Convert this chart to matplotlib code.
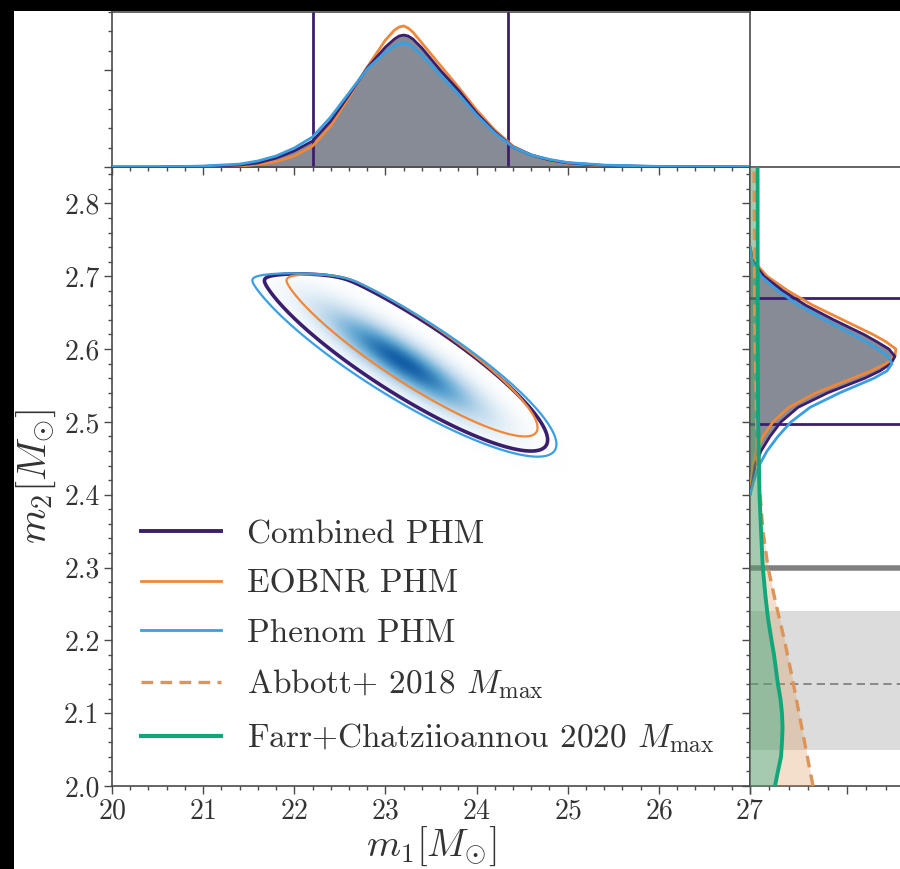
import numpy as np
import matplotlib
matplotlib.use("Agg")
import matplotlib.pyplot as plt
from matplotlib.patches import Rectangle
from matplotlib.lines import Line2D
from matplotlib.ticker import MultipleLocator, NullFormatter, FormatStrFormatter
from matplotlib.colors import LinearSegmentedColormap

plt.rcParams.update({
    "font.family": "serif",
    "font.serif": ["cmr10"],
    "mathtext.fontset": "cm",
    "axes.formatter.use_mathtext": True,
    "axes.unicode_minus": False,
})

# ---- waveform models -------------------------------------------------------
models = ["Combined PHM", "EOBNR PHM", "Phenom PHM"]
model_colors = ["#3b1f6e", "#f0883a", "#3a9fe0"]

# 2D posterior summaries in (m1, m2): centre, spread, correlation
m1_mean = [23.20, 23.27, 23.17]
m2_mean = [2.593, 2.600, 2.593]
m1_sigma = [0.736, 0.652, 0.795]
m2_sigma = [0.0620, 0.0559, 0.0656]
rho = [-0.885, -0.900, -0.879]
m2_upper = 2.703
credible_level = 0.90

# peak of the combined joint density
peak_m1 = 23.19
peak_m2 = 2.582

# marginal posterior of m1
m1_grid = [20.0, 20.5, 21.0, 21.4, 21.6, 21.8, 22.0, 22.2, 22.4, 22.6, 22.8,
           23.0, 23.1, 23.15, 23.2, 23.25, 23.3, 23.4, 23.6, 23.8, 24.0, 24.2,
           24.4, 24.6, 24.8, 25.0, 25.4, 26.0, 27.0]
m1_pdf_combined = [0, 0, .003, .010, .021, .046, .083, .134, .237, .372, .511,
                   .619, .661, .676, .681, .676, .661, .614, .501, .397, .279,
                   .181, .103, .062, .036, .021, .008, .002, 0]
m1_pdf_eobnr = [0, 0, .001, .005, .013, .028, .057, .108, .212, .361, .516,
                .655, .707, .722, .728, .717, .697, .640, .526, .413, .294,
                .191, .108, .062, .034, .018, .006, .001, 0]
m1_pdf_phenom = [0, 0, .005, .015, .031, .057, .098, .155, .258, .382, .506,
                 .593, .624, .635, .640, .635, .619, .578, .475, .377, .268,
                 .175, .103, .062, .039, .023, .010, .003, 0]

# marginal posterior of m2
m2_grid = [2.40, 2.42, 2.44, 2.46, 2.48, 2.50, 2.52, 2.54, 2.56, 2.57, 2.58,
           2.59, 2.60, 2.61, 2.62, 2.64, 2.66, 2.68, 2.70, 2.72, 2.74]
m2_pdf_combined = [0, .015, .026, .057, .103, .160, .248, .402, .593, .671,
                   .728, .748, .717, .655, .588, .433, .289, .170, .072, .015, 0]
m2_pdf_eobnr = [0, .008, .015, .031, .067, .119, .201, .341, .531, .624,
                .702, .748, .753, .702, .635, .480, .325, .196, .088, .021, 0]
m2_pdf_phenom = [0, .021, .046, .088, .144, .212, .310, .464, .640, .707,
                 .733, .712, .660, .599, .531, .387, .253, .144, .057, .010, 0]

# 90% credible intervals of the combined posterior
m1_interval = [22.21, 24.35]
m2_interval = [2.497, 2.670]

# maximum neutron-star mass estimates
mmax_abbott_grid = [2.00, 2.05, 2.10, 2.15, 2.20, 2.25, 2.30, 2.35, 2.40,
                    2.45, 2.50, 2.60, 2.70, 2.85]
mmax_abbott_pdf = [.325, .289, .253, .217, .178, .134, .093, .067, .052,
                   .040, .034, .027, .024, .021]
mmax_farr_grid = [2.00, 2.02, 2.04, 2.06, 2.08, 2.10, 2.12, 2.14, 2.16, 2.18,
                  2.20, 2.23, 2.26, 2.30, 2.35, 2.40, 2.50, 2.60, 2.85]
mmax_farr_pdf = [.129, .144, .160, .165, .168, .165, .157, .144, .134, .124,
                 .111, .093, .080, .066, .057, .049, .042, .040, .039]
mmax_labels = [r"Abbott+ 2018 $M_{\rm max}$",
               r"Farr+Chatziioannou 2020 $M_{\rm max}$"]
abbott_color = "#dc9458"
farr_color = "#12a77a"

# heaviest pulsar mass with its 68% band, and a reference mass limit
pulsar_mass = 2.14
pulsar_band = [2.05, 2.24]
mass_limit = 2.30

# axis ranges
m1_range = [20, 27]
m2_range = [2.0, 2.85]

# ---- figure ----------------------------------------------------------------
W, H = 900, 869
fig = plt.figure(figsize=(W / 100, H / 100), dpi=100, facecolor="black")
fig.add_artist(Rectangle((14 / W, 0), 1, (H - 11) / H, transform=fig.transFigure,
                         facecolor="white", edgecolor="none", zorder=-10))

x0, x1 = 112 / W, 750 / W
y_bot, y_mid, y_top = (H - 786) / H, (H - 167) / H, (H - 12) / H
ax = fig.add_axes([x0, y_bot, x1 - x0, y_mid - y_bot])
ax_top = fig.add_axes([x0, y_mid, x1 - x0, y_top - y_mid])
ax_right = fig.add_axes([x1, y_bot, 155 / W, y_mid - y_bot])

spine_color = "#4a4a4a"
for a in (ax, ax_top, ax_right):
    for s in a.spines.values():
        s.set_color(spine_color)
        s.set_linewidth(1.2)
    a.tick_params(which="both", direction="out", color=spine_color, width=1.0)
    a.tick_params(which="major", length=6)
    a.tick_params(which="minor", length=3)

# ---- joint posterior -------------------------------------------------------
m1_axis = np.linspace(m1_range[0], m1_range[1], 700)
m2_axis = np.linspace(m2_range[0], m2_range[1], 700)
M1, M2 = np.meshgrid(m1_axis, m2_axis)


def joint_density(i, c1=None, c2=None):
    c1 = m1_mean[i] if c1 is None else c1
    c2 = m2_mean[i] if c2 is None else c2
    u = (M1 - c1) / m1_sigma[i]
    v = (M2 - c2) / m2_sigma[i]
    r = rho[i]
    q = (u * u - 2 * r * u * v + v * v) / (1 - r * r)
    taper = 1.0 / (1.0 + np.exp((M2 - m2_upper) / 0.003))
    return np.exp(-0.5 * q) * taper


density = joint_density(0, peak_m1, peak_m2)
blues = LinearSegmentedColormap.from_list(
    "white_blues", ["#ffffff", plt.cm.Blues(0.3), plt.cm.Blues(0.55),
                    plt.cm.Blues(0.82)])
ax.imshow(density ** 1.8, extent=[m1_range[0], m1_range[1], m2_range[0], m2_range[1]],
          origin="lower", aspect="auto", cmap=blues, vmin=0, vmax=1,
          interpolation="bilinear", zorder=1)

level = 1 - credible_level  # density ratio bounding the 90% region
contour_widths = [2.6, 1.6, 1.6]
for i in range(len(models)):
    ax.contour(M1, M2, joint_density(i), levels=[level],
               colors=[model_colors[i]], linewidths=contour_widths[i], zorder=3)

ax.set_xlim(m1_range)
ax.set_ylim(m2_range)
ax.xaxis.set_major_locator(MultipleLocator(1))
ax.xaxis.set_minor_locator(MultipleLocator(0.2))
ax.yaxis.set_major_locator(MultipleLocator(0.1))
ax.yaxis.set_minor_locator(MultipleLocator(0.02))
ax.yaxis.set_major_formatter(FormatStrFormatter("%.1f"))
ax.tick_params(labelsize=20, pad=3)
for lab in ax.get_xticklabels() + ax.get_yticklabels():
    lab.set_color("#333333")
ax.set_xlabel(r"$m_1[M_{\odot}]$", fontsize=28, color="#333333", labelpad=0)
ax.set_ylabel(r"$m_2[M_{\odot}]$", fontsize=29, color="#333333", labelpad=4)

# ---- m1 marginal -----------------------------------------------------------
m1_pdfs = [m1_pdf_combined, m1_pdf_eobnr, m1_pdf_phenom]
fill_gray = "#868b95"
ax_top.fill_between(m1_grid, 0, m1_pdf_combined, color=fill_gray, lw=0, zorder=1)
for pdf, c in zip([m1_pdfs[1], m1_pdfs[0], m1_pdfs[2]],
                  [model_colors[1], model_colors[0], model_colors[2]]):
    ax_top.plot(m1_grid, pdf, color=c, lw=2.0, zorder=3)
for v in m1_interval:
    ax_top.axvline(v, color=model_colors[0], lw=2.0, zorder=2)
ax_top.set_xlim(m1_range)
ax_top.set_ylim(0, 0.8)
ax_top.xaxis.set_major_locator(MultipleLocator(1))
ax_top.xaxis.set_minor_locator(MultipleLocator(0.2))
ax_top.yaxis.set_major_locator(MultipleLocator(0.5))
ax_top.yaxis.set_minor_locator(MultipleLocator(0.1))
ax_top.xaxis.set_major_formatter(NullFormatter())
ax_top.yaxis.set_major_formatter(NullFormatter())

# ---- m2 marginal and maximum-mass estimates --------------------------------
m2_pdfs = [m2_pdf_combined, m2_pdf_eobnr, m2_pdf_phenom]
ax_right.axhspan(pulsar_band[0], pulsar_band[1], color="#d6d6d6", alpha=0.85,
                 lw=0, zorder=0)
ax_right.axhline(pulsar_mass, color="#7a7a7a", lw=1.2, ls=(0, (5, 3)), zorder=1)
ax_right.axhline(mass_limit, color="#808080", lw=4.0, zorder=1)
ax_right.fill_betweenx(m2_grid, 0, m2_pdf_combined, color=fill_gray, lw=0, zorder=2)
for pdf, c in zip([m2_pdfs[1], m2_pdfs[0], m2_pdfs[2]],
                  [model_colors[1], model_colors[0], model_colors[2]]):
    ax_right.plot(pdf, m2_grid, color=c, lw=2.0, zorder=4)
for v in m2_interval:
    ax_right.axhline(v, color=model_colors[0], lw=2.0, zorder=3)

ax_right.fill_betweenx(mmax_abbott_grid, 0, mmax_abbott_pdf, color=abbott_color,
                       alpha=0.3, lw=0, zorder=5)
ax_right.fill_betweenx(mmax_farr_grid, 0, mmax_farr_pdf, color=farr_color,
                       alpha=0.35, lw=0, zorder=5)
ax_right.plot(mmax_abbott_pdf, mmax_abbott_grid, color=abbott_color, lw=2.4,
              ls=(0, (3.5, 2.2)), zorder=6)
ax_right.plot(mmax_farr_pdf, mmax_farr_grid, color=farr_color, lw=2.8, zorder=6)

ax_right.set_ylim(m2_range)
ax_right.set_xlim(0, 0.8)
ax_right.yaxis.set_major_locator(MultipleLocator(0.1))
ax_right.yaxis.set_minor_locator(MultipleLocator(0.02))
ax_right.xaxis.set_major_locator(MultipleLocator(0.5))
ax_right.xaxis.set_minor_locator(MultipleLocator(0.1))
ax_right.xaxis.set_major_formatter(NullFormatter())
ax_right.yaxis.set_major_formatter(NullFormatter())

# ---- legend ----------------------------------------------------------------
handles = [Line2D([], [], color=model_colors[0], lw=2.8),
           Line2D([], [], color=model_colors[1], lw=2.0),
           Line2D([], [], color=model_colors[2], lw=2.0),
           Line2D([], [], color=abbott_color, lw=2.4, ls=(0, (3.5, 2.2))),
           Line2D([], [], color=farr_color, lw=3.0)]
labels = models + mmax_labels
leg = ax.legend(handles, labels, loc="upper left", bbox_to_anchor=(0.045, 0.430),
                frameon=False, fontsize=24, handlelength=2.4, handletextpad=0.8,
                labelspacing=0.60, borderpad=0, borderaxespad=0)
for t in leg.get_texts():
    t.set_color("#333333")

fig.savefig("out.png", dpi=100, facecolor=fig.get_facecolor())
